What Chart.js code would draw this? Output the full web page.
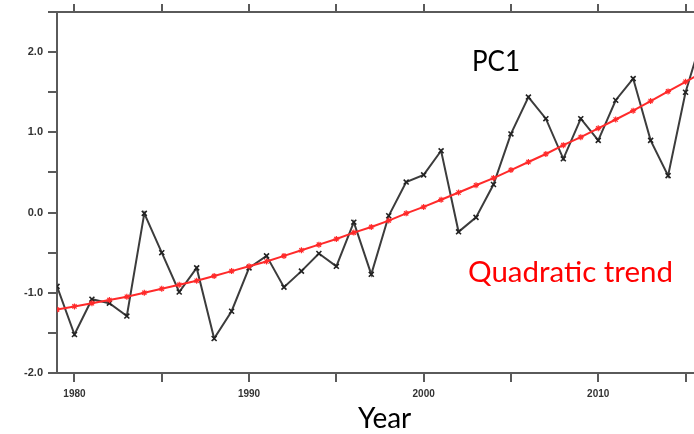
<!DOCTYPE html>
<html>
<head>
<meta charset="utf-8">
<script src="https://cdn.jsdelivr.net/npm/chart.js@4/dist/chart.umd.min.js"></script>
<style>
  html, body { margin: 0; padding: 0; background: #fff; overflow: hidden; }
  #wrap { position: relative; width: 710px; height: 434px; }
</style>
</head>
<body>
<div id="wrap"><canvas id="c"></canvas></div>
<script>
// ---- data ----
const years = [1979,1980,1981,1982,1983,1984,1985,1986,1987,1988,1989,1990,1991,1992,1993,1994,1995,1996,1997,1998,1999,2000,2001,2002,2003,2004,2005,2006,2007,2008,2009,2010,2011,2012,2013,2014,2015,2016];
const pc1 = [-0.92,-1.52,-1.08,-1.13,-1.29,-0.01,-0.50,-0.99,-0.69,-1.57,-1.23,-0.69,-0.54,-0.93,-0.73,-0.51,-0.67,-0.12,-0.77,-0.04,0.38,0.47,0.77,-0.24,-0.06,0.35,0.98,1.44,1.17,0.67,1.17,0.90,1.40,1.67,0.90,0.46,1.50,2.22];
const quadTrend = [-1.21,-1.17,-1.13,-1.09,-1.05,-1.00,-0.95,-0.90,-0.85,-0.79,-0.73,-0.67,-0.61,-0.54,-0.47,-0.40,-0.33,-0.25,-0.18,-0.10,-0.01,0.07,0.16,0.25,0.34,0.43,0.53,0.63,0.73,0.84,0.94,1.05,1.16,1.27,1.39,1.51,1.63,1.75];
const xTickValues = [1980,1985,1990,1995,2000,2005,2010,2015];
const xTickLabels = ['1980','','1990','','2000','','2010',''];
const yTickValues = [-2,-1.5,-1,-0.5,0,0.5,1,1.5,2,2.5];
const yTickLabels = ['-2.0','','-1.0','','0.0','','1.0','','2.0',''];
const seriesLabels = ['PC1','Quadratic trend'];
const axisTitleX = 'Year';

const AX = '#5a5a5a';

const textPlugin = {
  id: 'annot',
  afterDraw(chart) {
    const ctx = chart.ctx;
    ctx.save();
    ctx.textBaseline = 'alphabetic';
    ctx.textAlign = 'left';
    ctx.font = '28px Lato';
    ctx.fillStyle = '#000';
    ctx.fillText(seriesLabels[0], 472, 71, 48);
    ctx.font = '29.5px Lato';
    ctx.fillStyle = '#ff0000';
    ctx.fillText(seriesLabels[1], 468, 282, 205);
    ctx.font = '28px Lato';
    ctx.fillStyle = '#000';
    ctx.fillText(axisTitleX, 358, 428, 56);
    ctx.restore();
  }
};

function setTicks(values) {
  return s => { s.ticks = values.map(v => ({ value: v })); };
}

new Chart(document.getElementById('c'), {
  type: 'line',
  data: {
    datasets: [
      {
        label: seriesLabels[0],
        data: years.map((y, i) => ({ x: y, y: pc1[i] })),
        borderColor: '#3c3c3c',
        borderWidth: 2,
        pointStyle: 'crossRot',
        pointRadius: 3.5,
        pointBorderWidth: 1.6,
        pointBorderColor: '#222',
        tension: 0,
        order: 2
      },
      {
        label: seriesLabels[1],
        data: years.map((y, i) => ({ x: y, y: quadTrend[i] })),
        borderColor: '#ff2a2a',
        borderWidth: 2,
        pointStyle: 'star',
        pointRadius: 3,
        pointBorderWidth: 1.2,
        pointBorderColor: '#ff2a2a',
        tension: 0,
        order: 1
      }
    ]
  },
  options: {
    responsive: true,
    maintainAspectRatio: false,
    animation: false,
    layout: { padding: { left: 0, right: 7, top: 0, bottom: 0 } },
    plugins: { legend: { display: false }, tooltip: { enabled: false } },
    scales: {
      x: {
        type: 'linear',
        position: 'bottom',
        min: 1979,
        max: 2016,
        afterBuildTicks: setTicks(xTickValues),
        afterFit: s => { s.height = 61; },
        border: { display: true, color: AX, width: 2 },
        grid: { display: true, drawOnChartArea: false, drawTicks: true, tickLength: 9, color: AX, lineWidth: 2 },
        ticks: {
          autoSkip: false,
          maxRotation: 0,
          padding: 6,
          color: '#333',
          font: { family: 'Liberation Sans', size: 10, weight: 'bold' },
          callback: (v, i) => xTickLabels[xTickValues.indexOf(v)] ?? ''
        }
      },
      xTop: {
        type: 'linear',
        position: 'top',
        min: 1979,
        max: 2016,
        afterBuildTicks: setTicks(xTickValues),
        afterFit: s => { s.height = 12; },
        border: { display: true, color: AX, width: 2 },
        grid: { display: true, drawOnChartArea: false, drawTicks: true, tickLength: 8, color: AX, lineWidth: 2 },
        ticks: { display: false }
      },
      y: {
        type: 'linear',
        position: 'left',
        min: -2,
        max: 2.5,
        afterBuildTicks: setTicks(yTickValues),
        afterFit: s => { s.width = 57; },
        border: { display: true, color: AX, width: 2 },
        grid: { display: true, drawOnChartArea: false, drawTicks: true, tickLength: 9, color: AX, lineWidth: 2 },
        ticks: {
          autoSkip: false,
          padding: 5,
          color: '#333',
          font: { family: 'Liberation Sans', size: 11, weight: 'bold' },
          callback: (v) => yTickLabels[yTickValues.indexOf(v)] ?? ''
        }
      }
    }
  },
  plugins: [textPlugin]
});
</script>
</body>
</html>
